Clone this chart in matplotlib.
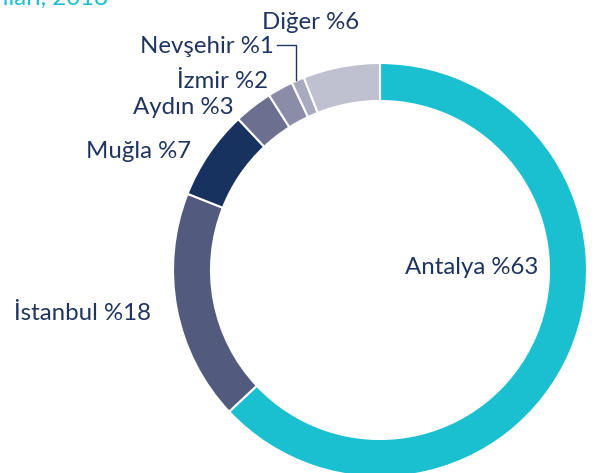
import matplotlib.pyplot as plt

plt.rcParams['font.family'] = ['Lato', 'DejaVu Sans']

# shares by province (%)
labels = ["Antalya", "İstanbul", "Muğla", "Aydın", "İzmir", "Nevşehir", "Diğer"]
shares = [63, 18, 7, 3, 2, 1, 6]
colors = ["#1ABFD0", "#525A7E", "#17325F", "#6B6F90", "#8B8DA8", "#A8AABF", "#BFC0D0"]

# label anchor (left x, baseline y) in pixel coords from top-left
label_pos = {
    "Antalya": (405, 274),
    "İstanbul": (14, 320),
    "Muğla": (86, 158),
    "Aydın": (133, 114),
    "İzmir": (177, 88),
    "Nevşehir": (140, 53),
    "Diğer": (262, 29),
}

W, H = 598, 473
text_color = "#1F3560"

fig = plt.figure(figsize=(W / 100, H / 100), dpi=100)
ax = fig.add_axes([0, 0, 1, 1])
ax.set_xlim(0, W)
ax.set_ylim(0, H)
ax.set_aspect('equal')
ax.axis('off')

ax.pie(shares, colors=colors, startangle=90, counterclock=False,
       center=(380, H - 270), radius=207,
       wedgeprops=dict(width=38, edgecolor='white', linewidth=1.5))
ax.set_xlim(0, W)
ax.set_ylim(0, H)

for name, val in zip(labels, shares):
    x, y = label_pos[name]
    ax.text(x, H - y, f"{name} %{val}", ha='left', va='baseline',
            fontsize=17.3, color=text_color)

# leader line for Nevşehir
ax.plot([277, 296, 296], [H - 45, H - 45, H - 80], color=text_color, lw=1)

# clipped title at top
ax.text(108, H - 5, "Ziyaretçi sayıları, 2018", ha='right', va='baseline',
        fontsize=17.3, color="#1ABFD0")

fig.savefig("out.png", dpi=100)
